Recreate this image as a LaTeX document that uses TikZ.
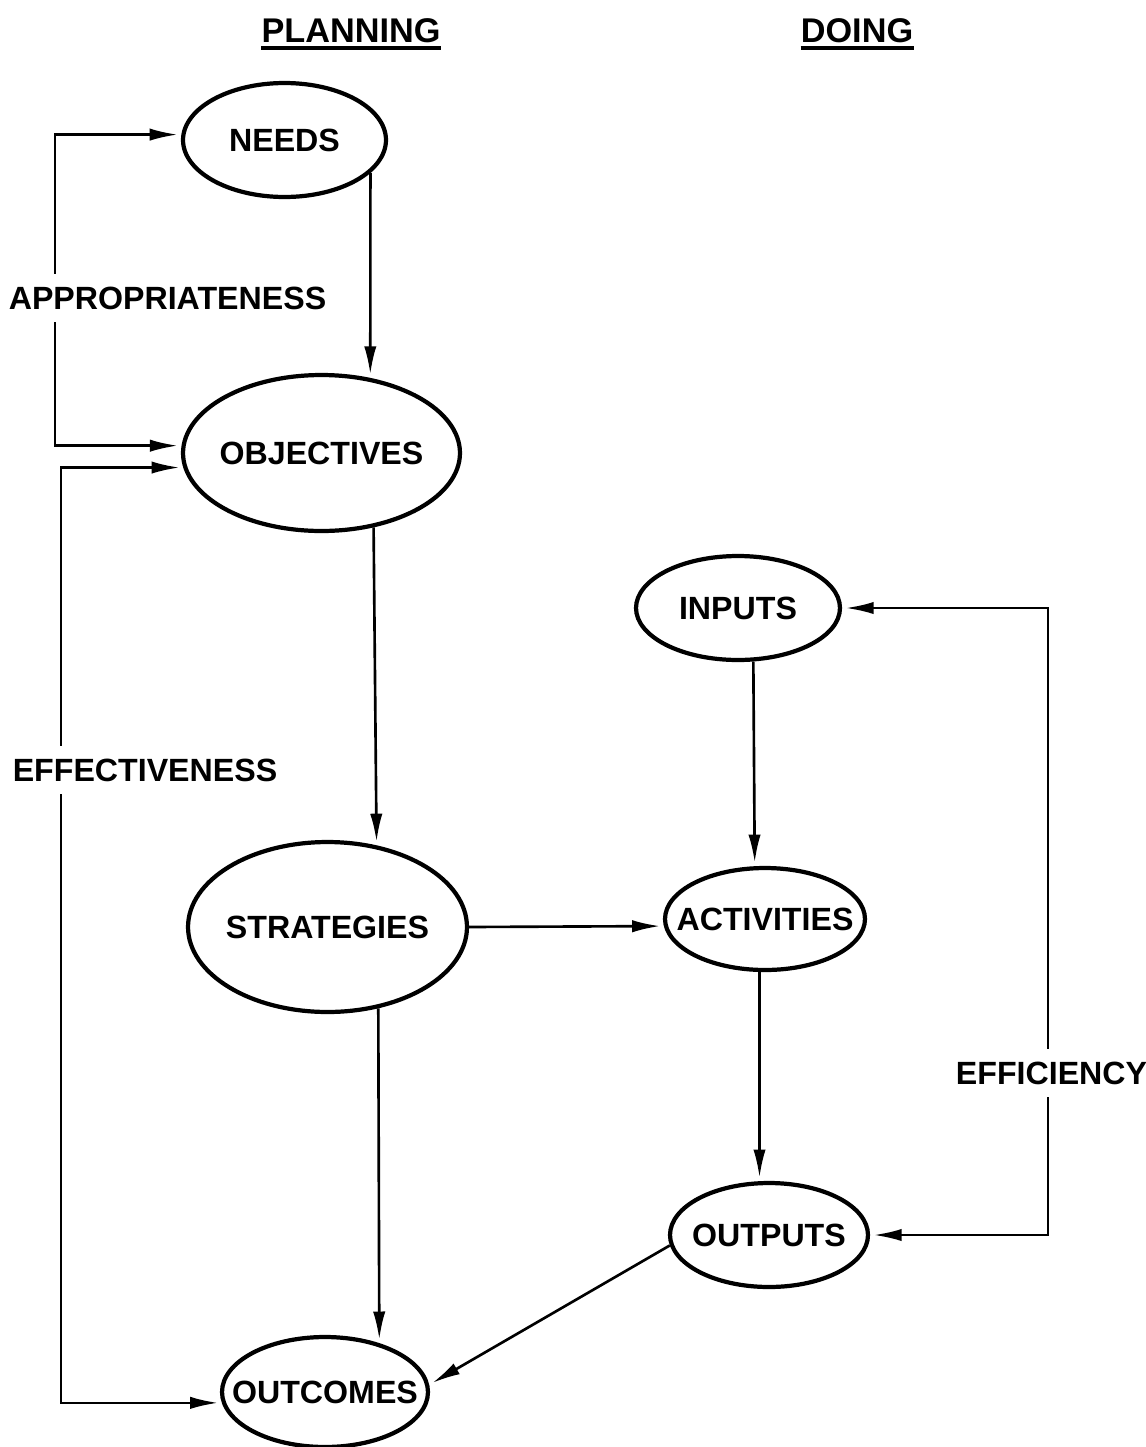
\documentclass[tikz,border=0pt]{standalone}
\usepackage{fontspec}
\setmainfont{Liberation Sans}
\usetikzlibrary{shapes.geometric,arrows.meta}
\newcommand{\ovaltext}[1]{\makebox[0pt]{#1}}

\begin{document}
\begin{tikzpicture}[x=0.02cm,y=-0.02cm,
        lbl/.style={font=\fontsize{18.3}{22}\selectfont\bfseries},
        oval/.style={ellipse,draw,line width=2.4pt,inner sep=0pt,lbl},
        tag/.style={lbl,fill=white,inner xsep=2pt,inner ysep=7pt},
        arr/.style={line width=1.5pt,shorten >=2pt,-{Latex[length=16pt,width=7pt]}},
        darr/.style={line width=1.5pt,shorten >=2pt,shorten <=2pt,{Latex[length=16pt,width=7pt]}-{Latex[length=16pt,width=7pt]}}]
        \useasboundingbox (0,0) rectangle (1146,1447);
        % headings
        \node[lbl,font=\fontsize{19.5}{23}\selectfont\bfseries,inner sep=0pt] (planning) at (351,31) {PLANNING};
        \node[lbl,font=\fontsize{19.5}{23}\selectfont\bfseries,inner sep=0pt] (doing) at (857,31) {DOING};
        \draw[line width=2pt] ([yshift=-3pt]planning.base west) -- ([yshift=-3pt]planning.base east);
        \draw[line width=2pt] ([yshift=-3pt]doing.base west) -- ([yshift=-3pt]doing.base east);
        % planning side
        \node[oval,minimum width=4.06cm,minimum height=2.28cm] (needs) at (284.5,140) {\ovaltext{NEEDS}};
        \node[oval,minimum width=5.54cm,minimum height=3.12cm] (objectives) at (321.5,453) {\ovaltext{OBJECTIVES}};
        \node[oval,minimum width=5.58cm,minimum height=3.40cm] (strategies) at (327.5,927) {\ovaltext{STRATEGIES}};
        \node[oval,minimum width=4.12cm,minimum height=2.20cm] (outcomes) at (325,1392) {\ovaltext{OUTCOMES}};
        % doing side
        \node[oval,minimum width=4.08cm,minimum height=2.08cm] (inputs) at (738,608) {\ovaltext{INPUTS}};
        \node[oval,minimum width=4.00cm,minimum height=2.04cm] (activities) at (765,919) {\ovaltext{ACTIVITIES}};
        \node[oval,minimum width=3.96cm,minimum height=2.08cm] (outputs) at (769,1235) {\ovaltext{OUTPUTS}};
        \draw[arr] (needs.-21) -- (objectives.57);
        \draw[arr] (objectives.-55) -- (strategies.59);
        \draw[arr] (strategies.-58) -- (outcomes.42);
        \draw[arr] (strategies.east) -- (activities.184);
        \draw[arr] (inputs.-74) -- (activities.101);
        \draw[arr] (activities.-96) -- (outputs.100);
        \draw[arr] (outputs.186) -- (outcomes.4);
        % feedback loops
        \coordinate (apx) at (55,0);
        \coordinate (efx) at (61,0);
        \coordinate (ecx) at (1048,0);
        \draw[darr] (needs.177) -- (needs.177 -| apx) -- (apx |- objectives.177) -- (objectives.177);
        \draw[darr] (objectives.186) -- (objectives.186 -| efx) -- (efx |- outcomes.186) -- (outcomes.186);
        \draw[darr] (inputs.east) -- (inputs.east -| ecx) -- (ecx |- outputs.east) -- (outputs.east);
        \node[tag] (appropriateness) at (167.5,298) {APPROPRIATENESS};
        \node[tag] (effectiveness) at (145,770) {EFFECTIVENESS};
        \node[tag] (efficiency) at (1051.5,1073) {EFFICIENCY};
    \end{tikzpicture}
\end{document}
